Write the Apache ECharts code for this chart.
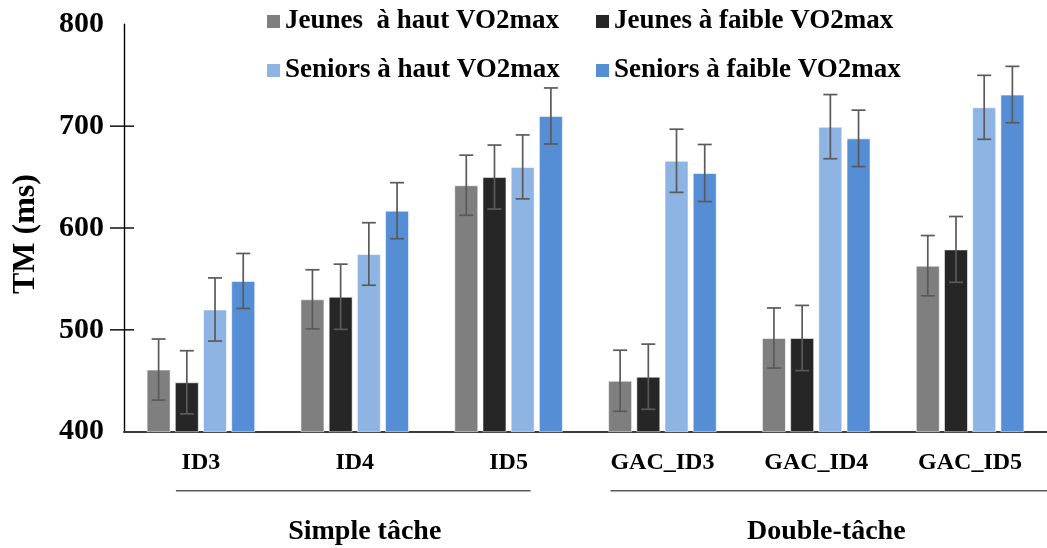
<!DOCTYPE html>
<html>
<head>
<meta charset="utf-8">
<script src="https://cdn.jsdelivr.net/npm/echarts@6/dist/echarts.min.js"></script>
<style>
html,body{margin:0;padding:0;background:#fff;}
#chart{width:1047px;height:548px;}
</style>
</head>
<body>
<div id="chart"></div>
<script>
// ---- data ----
const categories = ['ID3', 'ID4', 'ID5', 'GAC_ID3', 'GAC_ID4', 'GAC_ID5'];
const taskGroups = ['Simple tâche', 'Double-tâche'];
const seriesNames = ['Jeunes  à haut VO2max', 'Jeunes à faible VO2max', 'Seniors à haut VO2max', 'Seniors à faible VO2max'];
const jeunesHaut = [461, 530, 642, 450, 492, 563];
const jeunesFaible = [448.5, 532.5, 650, 454, 492, 579];
const seniorsHaut = [520, 574.5, 660, 666, 699.5, 718.5];
const seniorsFaible = [548, 617, 710, 654, 688, 731];
const errJeunesHaut = [30, 29, 29.5, 30, 29.5, 29.6];
const errJeunesFaible = [31, 32, 31.4, 32, 32, 32.3];
const errSeniorsHaut = [31, 30.7, 31.4, 31, 31.5, 31.4];
const errSeniorsFaible = [27, 27.5, 27.5, 28, 27.7, 27.7];
const yTicks = [500, 600, 700];

const values = [jeunesHaut, jeunesFaible, seniorsHaut, seniorsFaible];
const errors = [errJeunesHaut, errJeunesFaible, errSeniorsHaut, errSeniorsFaible];
const colors = ['#7f7f7f', '#262626', '#8eb4e3', '#558ed5'];

const FONT = '"Liberation Serif", "Times New Roman", serif';
const BAR_W = 24, BAR_GAP = 4.2;
const offsets = [0, 1, 2, 3].map(i => (i - 1.5) * (BAR_W + BAR_GAP));

const chart = echarts.init(document.getElementById('chart'), null, {renderer: 'canvas'});

const series = [];
values.forEach((vals, s) => {
  series.push({
    name: seriesNames[s],
    type: 'bar',
    xAxisIndex: 0,
    yAxisIndex: 0,
    barWidth: BAR_W,
    barGap: (BAR_GAP / BAR_W * 100).toFixed(1) + '%',
    data: vals,
    itemStyle: {color: colors[s], borderColor: 'rgba(255,255,255,0.55)', borderWidth: 1},
    emphasis: {disabled: true},
    z: 2
  });
});
values.forEach((vals, s) => {
  series.push({
    name: 'err' + s,
    type: 'custom',
    xAxisIndex: 0,
    yAxisIndex: 0,
    z: 5,
    silent: true,
    data: vals.map((v, i) => [i, v, errors[s][i]]),
    encode: {x: 0, y: 1},
    renderItem: function (params, api) {
      const x = api.value(0), v = api.value(1), e = api.value(2);
      const hi = api.coord([x, v + e]);
      const lo = api.coord([x, v - e]);
      const cx = hi[0] + offsets[s];
      const style = {stroke: '#5a5a5a', lineWidth: 1.7};
      return {
        type: 'group',
        children: [
          {type: 'line', shape: {x1: cx, y1: hi[1], x2: cx, y2: lo[1]}, style: style},
          {type: 'line', shape: {x1: cx - 7, y1: hi[1], x2: cx + 7, y2: hi[1]}, style: style},
          {type: 'line', shape: {x1: cx - 7, y1: lo[1], x2: cx + 7, y2: lo[1]}, style: style}
        ]
      };
    }
  });
});

const legendPos = [[267, 8], [596, 8], [267, 57], [596, 57]];
const legends = seriesNames.map((n, i) => ({
  data: [n],
  left: legendPos[i][0],
  top: legendPos[i][1],
  padding: 0,
  icon: 'rect',
  itemWidth: 13,
  itemHeight: 13,
  selectedMode: false,
  itemStyle: {borderWidth: 0},
  textStyle: {fontFamily: FONT, fontWeight: 'bold', fontSize: 27, lineHeight: 26, color: '#000'}
}));

chart.setOption({
  animation: false,
  backgroundColor: '#fff',
  legend: legends,
  grid: {left: 124, top: 24.3, width: 932, height: 407.4, containLabel: false},
  xAxis: [
    {
      type: 'category',
      data: categories,
      position: 'bottom',
      axisLine: {show: true, lineStyle: {color: '#3a3a3a', width: 2}},
      axisTick: {show: false},
      axisLabel: {fontFamily: FONT, fontWeight: 'bold', fontSize: 24, color: '#000', margin: 19}
    },
    {
      type: 'category',
      data: taskGroups,
      position: 'bottom',
      axisLine: {show: false},
      axisTick: {show: false},
      axisLabel: {fontFamily: FONT, fontWeight: 'bold', fontSize: 28, color: '#000', margin: 86, padding: [0, 0, 0, 20]}
    }
  ],
  yAxis: {
    type: 'value',
    min: 400,
    max: 800,
    interval: 100,
    name: 'TM (ms)',
    nameLocation: 'middle',
    nameRotate: 90,
    nameGap: 82,
    nameTextStyle: {fontFamily: FONT, fontWeight: 'bold', fontSize: 32, color: '#000', padding: [0, 12, 0, 0]},
    axisLine: {show: true, lineStyle: {color: '#000', width: 1.4}},
    axisTick: {show: false},
    splitLine: {show: false},
    axisLabel: {fontFamily: FONT, fontWeight: 'bold', fontSize: 30, color: '#000', margin: 20}
  },
  series: series
});

// annotations derived from the axes
const axisX = chart.getModel().getComponent('grid', 0).coordinateSystem.getRect().x;
const graphics = [];
yTicks.forEach(t => {
  const y = chart.convertToPixel({yAxisIndex: 0}, t);
  graphics.push({type: 'line', shape: {x1: axisX - 14, y1: y, x2: axisX + 10, y2: y},
    style: {stroke: '#000', lineWidth: 1.4}, silent: true});
});
const baseY = chart.convertToPixel({yAxisIndex: 0}, 400);
const cx = c => chart.convertToPixel({xAxisIndex: 0}, c);
const brY = baseY + 59;
graphics.push({type: 'line', shape: {x1: cx(categories[0]) - 25, y1: brY, x2: cx(categories[2]) + 22, y2: brY},
  style: {stroke: '#595959', lineWidth: 1.6}, silent: true});
graphics.push({type: 'line', shape: {x1: cx(categories[3]) - 52, y1: brY, x2: 1047, y2: brY},
  style: {stroke: '#595959', lineWidth: 1.6}, silent: true});
chart.setOption({graphic: graphics});
</script>
</body>
</html>
